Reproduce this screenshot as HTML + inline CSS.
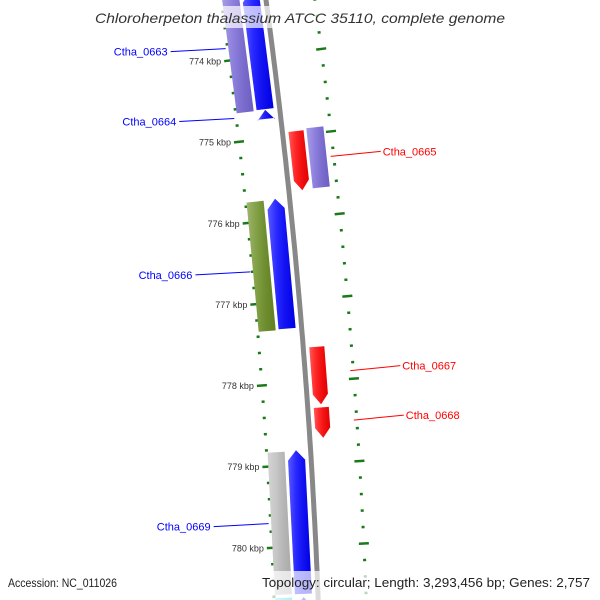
<!DOCTYPE html>
<html><head><meta charset="utf-8"><style>
html,body{margin:0;padding:0;background:#fff;width:600px;height:600px;overflow:hidden;}
svg{display:block;font-family:"Liberation Sans",sans-serif;overflow:hidden;}
</style></head><body>
<svg id="chart" width="600" height="600" viewBox="0 0 600 600">
<defs>
<linearGradient id="shade" x1="0" x2="1" y1="0" y2="0">
<stop offset="0" stop-color="#fff" stop-opacity="0.35"/><stop offset="0.35" stop-color="#fff" stop-opacity="0.15"/><stop offset="1" stop-color="#000" stop-opacity="0.1"/>
</linearGradient>
<clipPath id="frame"><rect x="0" y="0" width="600" height="600"/></clipPath>
</defs>
<g clip-path="url(#frame)">
<g id="ticks"></g>
<path id="backbone" fill="none" stroke="#888" stroke-width="5"/>
<g id="genes"></g>
<g id="labels"></g>
</g>
<rect x="88" y="6" width="424" height="22" fill="#fff" fill-opacity="0.7"/>
<text x="95" y="23" textLength="410" lengthAdjust="spacingAndGlyphs" font-size="14" font-style="italic" fill="#333">Chloroherpeton thalassium ATCC 35110, complete genome</text>
<rect x="0" y="571" width="600" height="29" fill="#fff" fill-opacity="0.7"/>
<text x="8" y="587" textLength="109" lengthAdjust="spacingAndGlyphs" font-size="12" fill="#222">Accession: NC_011026</text>
<text x="262" y="587" textLength="328" lengthAdjust="spacingAndGlyphs" font-size="13" fill="#222">Topology: circular; Length: 3,293,456 bp; Genes: 2,757</text>
</svg>
<script>
// gene data (kbp)
const geneNames = ["Ctha_0663a","Ctha_0663","Ctha_0664","Ctha_0665","Ctha_0665b","Ctha_0666a","Ctha_0666","Ctha_0667","Ctha_0668","Ctha_0669a","Ctha_0669","Ctha_0670a","Ctha_0670"];
const geneStart = [773.2, 773.2, 774.65, 774.95, 774.93, 775.75, 775.74, 777.58, 778.32, 778.83, 778.82, 780.62, 780.62];
const geneEnd   = [774.65,774.64,774.76, 775.67, 775.66, 777.34, 777.33, 778.28, 778.69, 780.58, 780.58, 781.3, 781.3];
const geneTrack = ["L2","L1","L1","R1","R2","L2","L1","R1","R1","L2","L1","L2","L1"];
const geneArrow = ["none","up","up","down","none","none","up","down","down","none","up","none","up"];
const geneColor = ["#7a6ad8","#0000ff","#0000ff","#ff0000","#7a6ad8","#6b8e23","#0000ff","#ff0000","#ff0000","#bdbdbd","#0000ff","#00e5ee","#0000ff"];
const labelText = ["Ctha_0663","Ctha_0664","Ctha_0665","Ctha_0666","Ctha_0667","Ctha_0668","Ctha_0669"];
const labelGeneKbp = [773.85, 774.71, 775.3, 776.6, 777.9, 778.5, 779.7];
const labelSide = ["L","L","R","L","R","R","L"];
const labelColor = ["#0000ff","#0000ff","#ff0000","#0000ff","#ff0000","#ff0000","#0000ff"];
const tickKbp = [774,775,776,777,778,779,780];
const tickLabels = ["774 kbp","775 kbp","776 kbp","777 kbp","778 kbp","779 kbp","780 kbp"];

const NS="http://www.w3.org/2000/svg";
function yOf(k){return 55+(k-774)*81.8;}
function xc(y){return 266+0.135*y-0.8e-4*y*y;}
function sl(y){return 0.135-1.6e-4*y;}
function pt(k,off){const y=yOf(k);return [xc(y)+off, y-off*sl(y)];}
function mk(tag,attrs,parent){const e=document.createElementNS(NS,tag);for(const a in attrs)e.setAttribute(a,attrs[a]);parent.appendChild(e);return e;}

let d="";for(let y=-10;y<=610;y+=10){d+=(y==-10?"M":"L")+xc(y).toFixed(1)+" "+y;}
document.getElementById("backbone").setAttribute("d",d);

const tracks={L2:[-43,-26],L1:[-23,-6],R1:[6,21],R2:[24,41]};
const gG=document.getElementById("genes");
for(let i=0;i<geneNames.length;i++){
  const [o1,o2]=tracks[geneTrack[i]];
  const s=geneStart[i],e=geneEnd[i],ah=10/81.8, mid=(o1+o2)/2;
  let pts=[];
  if(geneArrow[i]==="up"){
    pts.push(pt(s,mid),pt(s+ah,o2),pt(e,o2),pt(e,o1),pt(s+ah,o1));
  }else if(geneArrow[i]==="down"){
    pts.push(pt(s,o1),pt(s,o2),pt(e-ah,o2),pt(e,mid),pt(e-ah,o1));
  }else{
    pts.push(pt(s,o1),pt(s,o2),pt(e,o2),pt(e,o1));
  }
  const str=pts.map(p=>p[0].toFixed(1)+","+p[1].toFixed(1)).join(" ");
  const p=mk("polygon",{points:str,fill:geneColor[i]},gG);
  
  
  const q=mk("polygon",{points:str,fill:"url(#shade)"},gG);
  
  
}

const gT=document.getElementById("ticks");
for(let n=-4;n<=36;n++){
  const kk=774+n*0.2;
  const major=n%5===0;
  [-44,48].forEach(off=>{
    let a,b;
    if(major){a=pt(kk,off-5);b=pt(kk,off+5);}else{a=pt(kk,off-1.5);b=pt(kk,off+1.5);}
    const l=mk("line",{x1:a[0],y1:a[1],x2:b[0],y2:b[1],stroke:"#1a7a1a","stroke-width":2.5},gT);
    
    
  });
}
for(let i=0;i<tickKbp.length;i++){
  const p=pt(tickKbp[i],-52);
  const t=mk("text",{x:p[0],y:p[1]+3,"text-anchor":"end","font-size":"9",fill:"#333"},gT);
  t.textContent=tickLabels[i];
  
  
}

const gL=document.getElementById("labels");
for(let i=0;i<labelText.length;i++){
  const L=labelSide[i]==="L";
  const a=pt(labelGeneKbp[i],L?-46:45);
  const ex=L?a[0]-55:a[0]+50, ey=a[1]+(L?3:-5);
  const l=mk("line",{x1:a[0],y1:a[1],x2:ex,y2:ey,stroke:labelColor[i],"stroke-width":1},gL);
  
  
  const t=mk("text",{x:L?ex-3:ex+2,y:ey+4,"text-anchor":L?"end":"start","font-size":"11",fill:labelColor[i]},gL);
  t.textContent=labelText[i];
  
  
}
</script>
</body></html>
